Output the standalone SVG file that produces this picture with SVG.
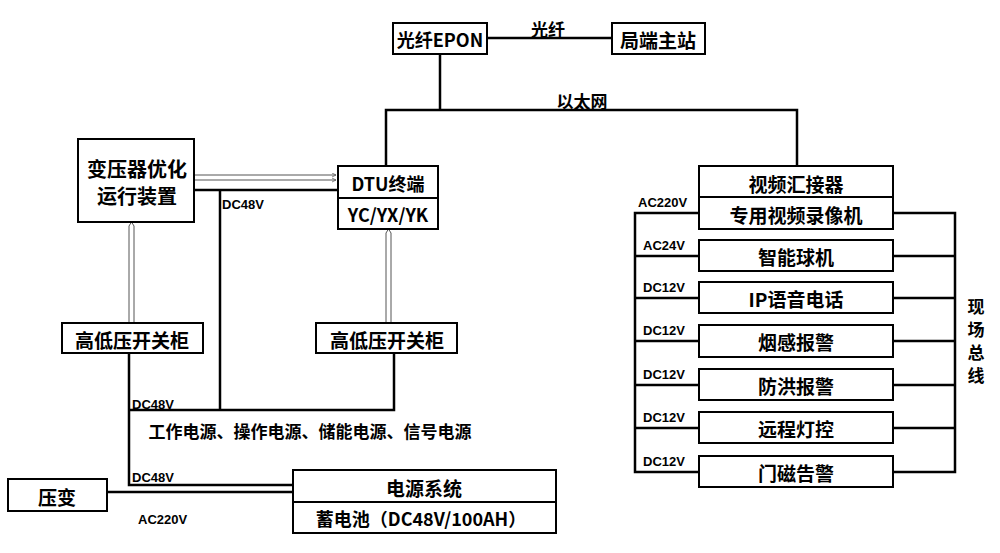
<svg xmlns="http://www.w3.org/2000/svg" width="1000" height="553" viewBox="0 0 1000 553">
<defs>
<style>
.box{fill:#fff;stroke:#000;stroke-width:2}
.ln{fill:none;stroke:#000;stroke-width:2.5}
.t{font-family:"Noto Sans CJK SC","Liberation Sans",sans-serif;font-size:19px;font-weight:bold;fill:#000;text-anchor:middle;dominant-baseline:central}
.s{font-size:17px}
.lb{font-family:"Liberation Sans Narrow","Liberation Sans",sans-serif;font-size:13px;font-weight:bold;fill:#000}
.h{fill:none;stroke:#555;stroke-width:1}
</style>
<marker id="ah" viewBox="0 0 10 10" refX="9" refY="5" markerWidth="5" markerHeight="5" orient="auto"><path d="M1,1 L9,5 L1,9" fill="none" stroke="#555" stroke-width="1.5"/></marker>
</defs>
<g id="connectors">
<line class="ln" x1="487" y1="38" x2="612" y2="38"/>
<polyline class="ln" points="440,54 440,110"/>
<polyline class="ln" points="386,166 386,110 797,110 797,166"/>
<line class="h" x1="194" y1="175" x2="336" y2="175" marker-end="url(#ah)"/>
<line class="h" x1="194" y1="180" x2="336" y2="180" marker-end="url(#ah)"/>
<line class="ln" x1="194" y1="190" x2="338" y2="190"/>
<line class="ln" x1="220" y1="190" x2="220" y2="410"/>
<path class="h" d="M129,323 V226 L131.5,222 L134,226 V323"/>
<path class="h" d="M386,323 V233 L388.5,229 L391,233 V323"/>
<polyline class="ln" points="129,353 129,485 293,485"/>
<polyline class="ln" points="129,410 394,410 394,353"/>
<line class="ln" x1="107" y1="492" x2="293" y2="492"/>
<polyline class="ln" points="699,213 635,213 635,472 699,472"/>
<polyline class="ln" points="893,213 955,213 955,472 893,472"/>
<line class="ln" x1="635" y1="256" x2="699" y2="256"/>
<line class="ln" x1="893" y1="256" x2="955" y2="256"/>
<line class="ln" x1="635" y1="298" x2="699" y2="298"/>
<line class="ln" x1="893" y1="298" x2="955" y2="298"/>
<line class="ln" x1="635" y1="341" x2="699" y2="341"/>
<line class="ln" x1="893" y1="341" x2="955" y2="341"/>
<line class="ln" x1="635" y1="385" x2="699" y2="385"/>
<line class="ln" x1="893" y1="385" x2="955" y2="385"/>
<line class="ln" x1="635" y1="428" x2="699" y2="428"/>
<line class="ln" x1="893" y1="428" x2="955" y2="428"/>
<text class="t s" x="548" y="28">光纤</text>
<text class="t s" x="582" y="100">以太网</text>
<text class="lb" x="222" y="209">DC48V</text>
<text class="lb" x="132" y="409">DC48V</text>
<text class="t s" x="310" y="430">工作电源、操作电源、储能电源、信号电源</text>
<text class="lb" x="132" y="482">DC48V</text>
<text class="lb" x="138" y="524">AC220V</text>
<text class="lb" x="638" y="207">AC220V</text>
<text class="lb" x="643" y="250">AC24V</text>
<text class="lb" x="643" y="292">DC12V</text>
<text class="lb" x="643" y="335">DC12V</text>
<text class="lb" x="643" y="379">DC12V</text>
<text class="lb" x="643" y="422">DC12V</text>
<text class="lb" x="643" y="466">DC12V</text>
<text class="t s" x="976" y="305">现</text>
<text class="t s" x="976" y="328">场</text>
<text class="t s" x="976" y="351">总</text>
<text class="t s" x="976" y="374">线</text>
</g>
<g id="epon"><rect class="box" x="393" y="23" width="94" height="31"/><text class="t" x="440" y="39" style="font-size:18px">光纤EPON</text></g>
<g id="master"><rect class="box" x="612" y="23" width="93" height="31"/><text class="t" x="658" y="39">局端主站</text></g>
<g id="optimizer"><rect class="box" x="78" y="139" width="116" height="83"/><text class="t" x="137" y="168" style="font-size:20px">变压器优化</text><text class="t" x="137" y="195" style="font-size:20px">运行装置</text></g>
<g id="dtu"><rect class="box" x="338" y="166" width="100" height="63"/><line class="box" x1="338" y1="198" x2="438" y2="198"/><text class="t" x="388" y="183" style="font-size:18px">DTU终端</text><text class="t" x="388" y="214" style="font-size:18px">YC/YX/YK</text></g>
<g id="switch1"><rect class="box" x="62" y="323" width="141" height="30"/><text class="t" x="132" y="339">高低压开关柜</text></g>
<g id="switch2"><rect class="box" x="316" y="323" width="141" height="30"/><text class="t" x="387" y="339">高低压开关柜</text></g>
<g id="pt"><rect class="box" x="8" y="479" width="99" height="32"/><text class="t" x="57" y="496">压变</text></g>
<g id="power"><rect class="box" x="293" y="470" width="263" height="63"/><line class="box" x1="293" y1="502" x2="556" y2="502"/><text class="t" x="424" y="487">电源系统</text><text class="t" x="421" y="518" style="font-size:18px">蓄电池（DC48V/100AH）</text></g>
<g id="video"><rect class="box" x="699" y="166" width="194" height="63"/><line class="box" x1="699" y1="197" x2="893" y2="197"/><text class="t" x="796" y="183">视频汇接器</text><text class="t" x="796" y="214">专用视频录像机</text></g>
<g id="dome"><rect class="box" x="699" y="240" width="194" height="31"/><text class="t" x="796" y="256">智能球机</text></g>
<g id="ipphone"><rect class="box" x="699" y="282" width="194" height="31"/><text class="t" x="796" y="298">IP语音电话</text></g>
<g id="smoke"><rect class="box" x="699" y="325" width="194" height="32"/><text class="t" x="796" y="341">烟感报警</text></g>
<g id="flood"><rect class="box" x="699" y="369" width="194" height="31"/><text class="t" x="796" y="385">防洪报警</text></g>
<g id="light"><rect class="box" x="699" y="412" width="194" height="31"/><text class="t" x="796" y="428">远程灯控</text></g>
<g id="door"><rect class="box" x="699" y="456" width="194" height="31"/><text class="t" x="796" y="472">门磁告警</text></g>
</svg>
